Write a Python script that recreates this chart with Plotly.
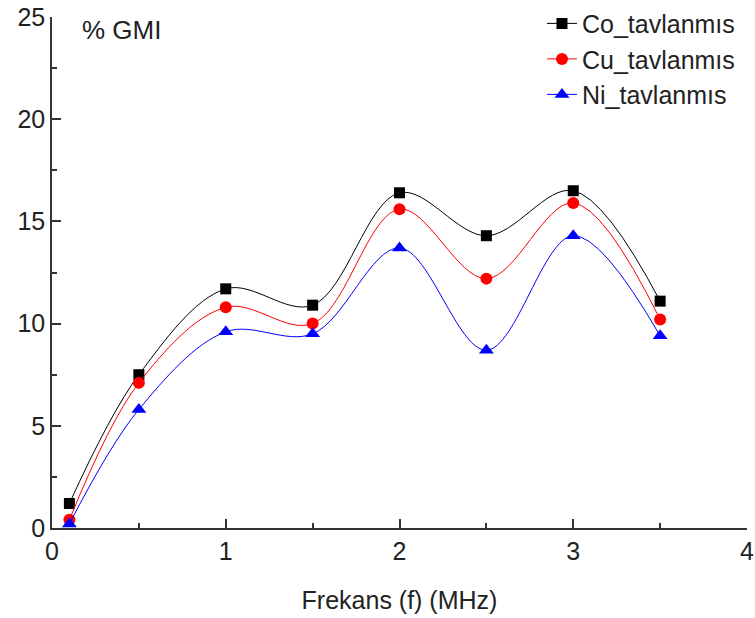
import plotly.graph_objects as go

freq = [0.1, 0.5, 1.0, 1.5, 2.0, 2.5, 3.0, 3.5]
co_gmi = [1.2, 7.5, 11.7, 10.9, 16.4, 14.3, 16.5, 11.1]
cu_gmi = [0.4, 7.1, 10.8, 10.0, 15.6, 12.2, 15.9, 10.2]
ni_gmi = [0.2, 5.8, 9.6, 9.5, 13.7, 8.7, 14.3, 9.4]

series_names = ["Co_tavlanmıs", "Cu_tavlanmıs", "Ni_tavlanmıs"]
x_ticks = [0, 1, 2, 3, 4]
y_ticks = [0, 5, 10, 15, 20, 25]

FONT = "Liberation Sans, Arial, sans-serif"
FS = 25

fig = go.Figure()
styles = [
    (co_gmi, "black", "square", 11),
    (cu_gmi, "red", "circle", 12),
    (ni_gmi, "blue", "triangle-up", 13),
]
for name, (vals, col, sym, sz) in zip(series_names, styles):
    fig.add_trace(go.Scatter(
        x=freq, y=vals, name=name, mode="lines+markers",
        line=dict(color=col, width=1, shape="spline", smoothing=1),
        marker=dict(color=col, symbol=sym, size=sz),
        cliponaxis=False,
    ))

axis_common = dict(
    showline=True, linecolor="#333", linewidth=1.5,
    ticks="inside", ticklen=9, tickwidth=1.5, tickcolor="#333",
    showgrid=False, zeroline=False, mirror=False, automargin=False,
    tickfont=dict(family=FONT, size=FS, color="#222"),
)

fig.update_xaxes(range=[0, 4], tickvals=x_ticks,
                 minor=dict(ticks="inside", ticklen=5, dtick=0.5, tick0=0, tickcolor="#333", tickwidth=1.5),
                 title=dict(text="Frekans (f) (MHz)", font=dict(family=FONT, size=FS, color="#222"), standoff=28),
                 **axis_common)
fig.update_yaxes(range=[0, 25], tickvals=y_ticks,
                 minor=dict(ticks="inside", ticklen=5, dtick=2.5, tick0=0, tickcolor="#333", tickwidth=1.5),
                 **axis_common)

fig.add_annotation(text="% GMI", xref="paper", yref="paper", x=0.04, y=0.975,
                   xanchor="left", yanchor="middle", showarrow=False,
                   font=dict(family=FONT, size=26, color="#222"))

fig.update_layout(
    width=755, height=618,
    margin=dict(l=52, r=8, t=17, b=90, autoexpand=False),
    plot_bgcolor="white", paper_bgcolor="white",
    font=dict(family=FONT, size=FS, color="#222"),
    legend=dict(x=0.705, y=1.032, xanchor="left", yanchor="top",
                bgcolor="rgba(0,0,0,0)", font=dict(family=FONT, size=25, color="#222"),
                tracegroupgap=0, itemwidth=30),
    showlegend=True,
)

fig.write_html("out.html", config={"displayModeBar": False},
               post_script="document.body.style.margin='0';")
